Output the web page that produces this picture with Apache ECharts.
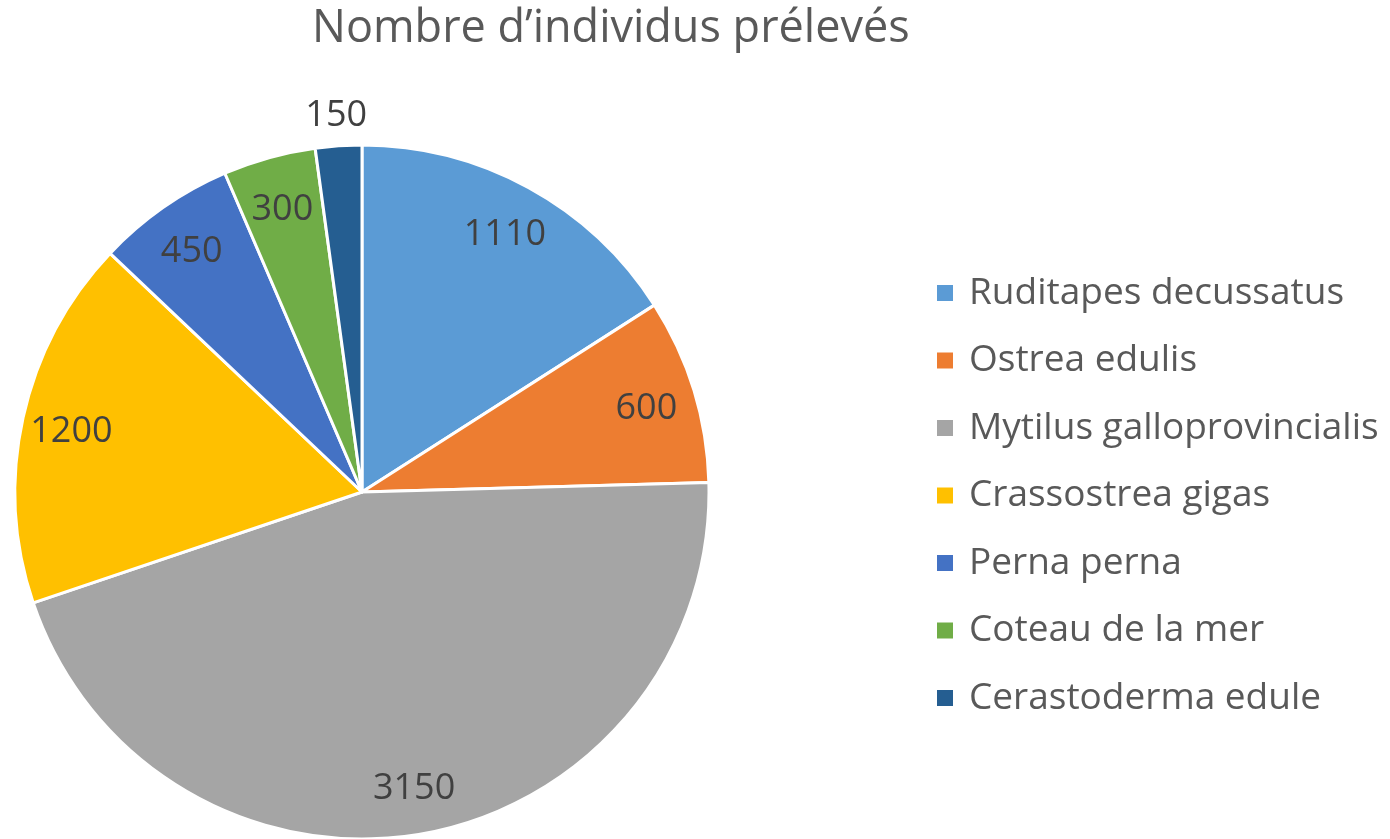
<!DOCTYPE html>
<html>
<head>
<meta charset="utf-8">
<script src="https://cdn.jsdelivr.net/npm/echarts@6/dist/echarts.min.js"></script>
<style>html,body{margin:0;padding:0;background:#fff;}#c{width:1390px;height:839px;}</style>
</head>
<body>
<div id="c"></div>
<script>
const titleText = 'Nombre d\u2019individus prélevés';
const categories = ['Ruditapes decussatus','Ostrea edulis','Mytilus galloprovincialis','Crassostrea gigas','Perna perna','Coteau de la mer','Cerastoderma edule'];
const values = [1110, 600, 3150, 1200, 450, 300, 150];
const colors = ['#5B9BD5','#ED7D31','#A5A5A5','#FFC000','#4472C4','#70AD47','#255E91'];

const FONT = '"Open Sans", "Noto Sans", sans-serif';
const total = values.reduce((a,b)=>a+b,0);
const isSmall = v => v / total < 0.03;
const CX = 362, CY = 492, R = 347;

const chart = echarts.init(document.getElementById('c'), null, {renderer:'canvas'});
const base = {
  type:'pie', center:[CX,CY], startAngle:90, clockwise:true,
  avoidLabelOverlap:false, silent:true, animation:false,
  emphasis:{disabled:true}, labelLine:{show:false}
};
const labelStyle = {show:true, position:'inside', fontFamily:FONT, fontSize:36, color:'#404040', formatter:'{c}', offset:[0,4]};
chart.setOption({
  backgroundColor:'#ffffff',
  animation:false,
  title:{text:titleText, left:312, top:2, padding:0,
    textStyle:{fontFamily:FONT, fontSize:45, fontWeight:'normal', color:'#595959', lineHeight:54}},
  legend:{
    orient:'vertical', left:935, top:273, padding:0, itemWidth:18, itemHeight:18, itemGap:27.5,
    icon:'rect',
    data: categories.map((n,i)=>({name:n, itemStyle:{color:colors[i]}})),
    textStyle:{fontFamily:FONT, fontSize:37, color:'#595959', lineHeight:40, padding:[0,0,0,10]},
    selectedMode:false
  },
  series:[
    Object.assign({}, base, {
      radius:R,
      itemStyle:{borderColor:'#ffffff', borderWidth:3},
      label:{show:false},
      data: categories.map((n,i)=>({name:n, value:values[i], itemStyle:{color:colors[i]}}))
    }),
    Object.assign({}, base, {
      radius:[242, R],
      itemStyle:{color:'rgba(0,0,0,0)', borderWidth:0},
      label:labelStyle,
      data: categories.map((n,i)=>({name:n, value:values[i], label:{show:!isSmall(values[i])}}))
    }),
    Object.assign({}, base, {
      radius:[R, 409],
      itemStyle:{color:'rgba(0,0,0,0)', borderWidth:0},
      label:labelStyle,
      data: categories.map((n,i)=>({name:n, value:values[i], label:{show:isSmall(values[i])}}))
    })
  ]
});
</script>
</body>
</html>
